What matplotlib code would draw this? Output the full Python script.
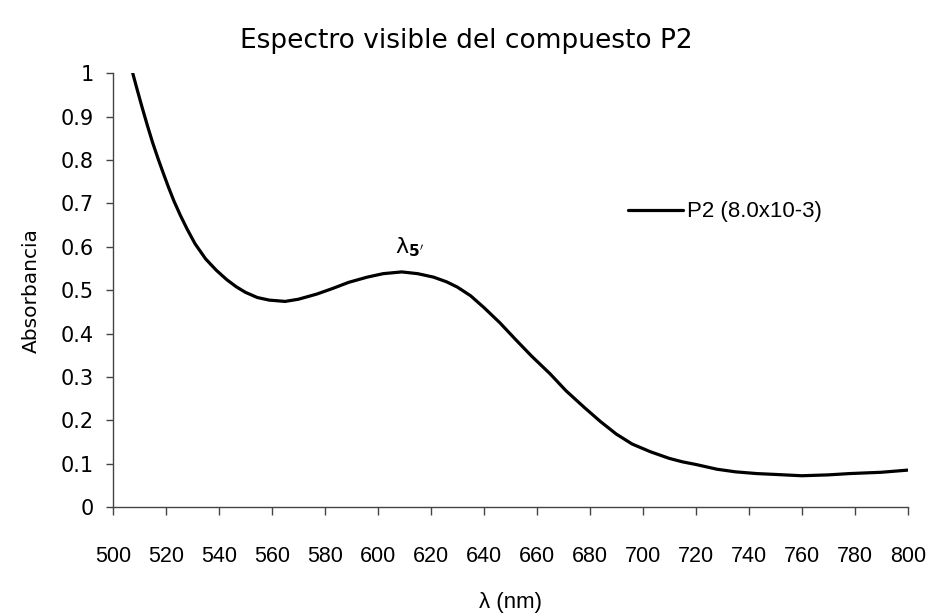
import matplotlib
matplotlib.use("Agg")
import matplotlib.pyplot as plt

# Visible absorption spectrum of compound P2
wavelength_nm = [507.5, 509, 511, 513, 515, 517, 519, 521, 523, 525.5, 528, 531, 535, 539,
                 543, 546.5, 550, 554.5, 559, 565, 570, 577, 583, 589, 596, 602,
                 609, 615, 621, 626, 630, 635, 640, 646, 652, 658, 665, 671,
                 678, 684, 690, 696, 703, 710, 715, 720, 728, 735, 743, 750,
                 760, 770, 778, 790, 800]
absorbance = [1.0, 0.966, 0.922, 0.880, 0.840, 0.804, 0.770, 0.737, 0.706, 0.672, 0.641, 0.607, 0.572, 0.546,
              0.524, 0.508, 0.495, 0.483, 0.477, 0.474, 0.479, 0.491, 0.504, 0.518, 0.530, 0.538,
              0.542, 0.538, 0.530, 0.519, 0.507, 0.487, 0.460, 0.425, 0.386, 0.348, 0.307, 0.268,
              0.229, 0.197, 0.168, 0.145, 0.127, 0.112, 0.104, 0.098, 0.087, 0.081, 0.077, 0.075,
              0.072, 0.074, 0.077, 0.080, 0.085]
series_label = "P2 (8.0x10-3)"
peak_label = r"λ$_{\mathbf{5'}}$"
peak_nm = 607
peak_abs = 0.542

x_ticks = list(range(500, 801, 20))
y_ticks = [0, 0.1, 0.2, 0.3, 0.4, 0.5, 0.6, 0.7, 0.8, 0.9, 1.0]
y_tick_labels = ["0", "0.1", "0.2", "0.3", "0.4", "0.5", "0.6", "0.7", "0.8", "0.9", "1"]

narrow = ["Liberation Sans", "DejaVu Sans"]
plt.rcParams["mathtext.fontset"] = "dejavusans"

fig = plt.figure(figsize=(9.33, 6.16), dpi=100)
ax = fig.add_axes([0.121, 0.177, 0.852, 0.704])

ax.plot(wavelength_nm, absorbance, color="black", lw=2.3, label=series_label,
        solid_capstyle="round", solid_joinstyle="round")

ax.set_xlim(500, 800)
ax.set_ylim(0, 1)
ax.set_xticks(x_ticks)
ax.set_xticklabels([str(t) for t in x_ticks], family=narrow)
ax.set_yticks(y_ticks)
ax.set_yticklabels(y_tick_labels)

for side in ("top", "right"):
    ax.spines[side].set_visible(False)
for side in ("left", "bottom"):
    ax.spines[side].set_color("#444444")
    ax.spines[side].set_linewidth(1.0)

ax.tick_params(axis="x", direction="out", length=6, width=1, color="#444444",
               pad=22, labelsize=15.5)
ax.tick_params(axis="y", direction="out", length=5, width=1, color="#444444",
               pad=9, labelsize=15)

ax.set_xlabel("λ (nm)", fontsize=16, family=narrow, labelpad=18)
ax.set_ylabel("Absorbancia", fontsize=14.5, labelpad=14)
fig.suptitle("Espectro visible del compuesto P2", fontsize=19, y=0.955)

ax.annotate(peak_label, xy=(peak_nm, peak_abs), xytext=(-1, 9),
            textcoords="offset points", ha="left", va="bottom", fontsize=16)

leg = ax.legend(loc="center left", bbox_to_anchor=(0.673, 0.656),
                bbox_transform=fig.transFigure, frameon=False,
                handlelength=2.5, handletextpad=0.15, borderpad=0,
                borderaxespad=0, prop={"family": narrow, "size": 16})

fig.savefig("out.png", dpi=100, facecolor="white")
